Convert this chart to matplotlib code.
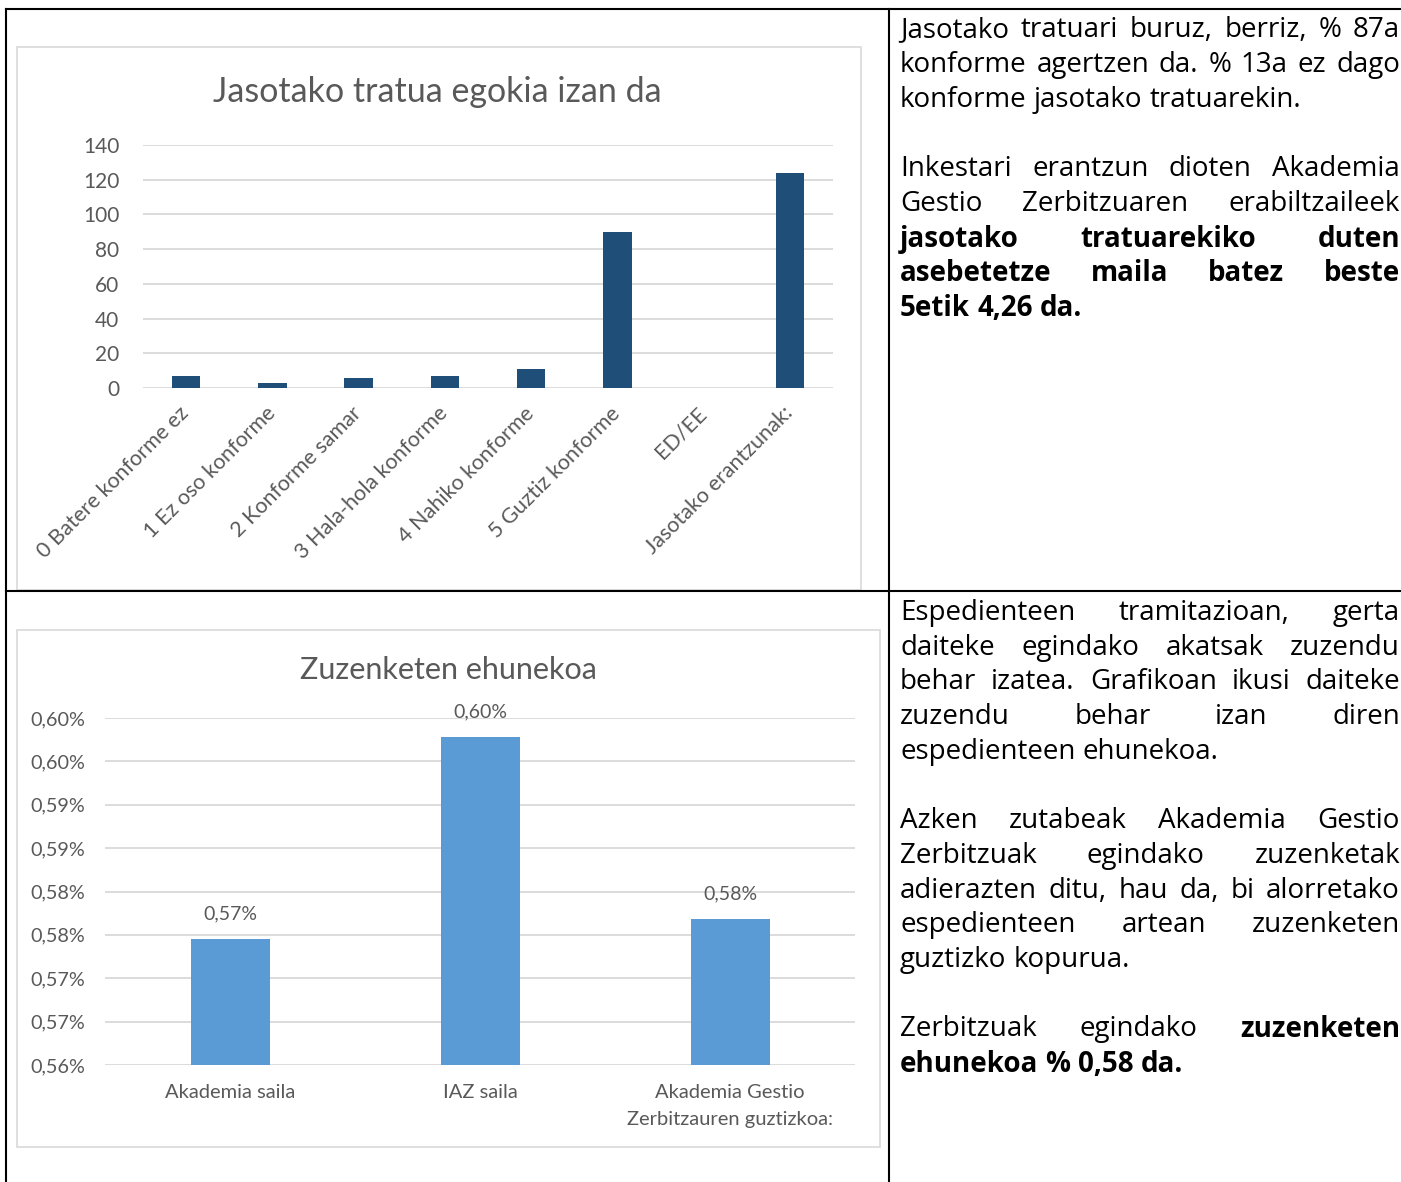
import matplotlib
matplotlib.use("Agg")
import matplotlib.pyplot as plt
from matplotlib.patches import Rectangle

W, H, DPI = 1401, 1182, 100

# chart 1: jasotako tratua
tratua_title = "Jasotako tratua egokia izan da"
tratua_labels = ["0 Batere konforme ez", "1 Ez oso konforme", "2 Konforme samar",
                 "3 Hala-hola konforme", "4 Nahiko konforme", "5 Guztiz konforme",
                 "ED/EE", "Jasotako erantzunak:"]
tratua_values = [7, 3, 6, 7, 11, 90, 0, 124]
tratua_yticks = [0, 20, 40, 60, 80, 100, 120, 140]

# chart 2: zuzenketen ehunekoa
zuzen_title = "Zuzenketen ehunekoa"
zuzen_labels = ["Akademia saila", "IAZ saila", "Akademia Gestio\nZerbitzauren guztizkoa:"]
zuzen_values = [0.5745, 0.5978, 0.5768]
zuzen_bar_labels = ["0,57%", "0,60%", "0,58%"]
zuzen_yticks = [0.560, 0.565, 0.570, 0.575, 0.580, 0.585, 0.590, 0.595, 0.600]
zuzen_yticklabels = ["0,56%", "0,57%", "0,57%", "0,58%", "0,58%", "0,59%", "0,59%", "0,60%", "0,60%"]

# right column text; words starting with * are bold, flag = justified line
top_lines = [
    ("Jasotako tratuari buruz, berriz, % 87a", True),
    ("konforme agertzen da. % 13a ez dago", True),
    ("konforme jasotako tratuarekin.", False),
    None,
    ("Inkestari erantzun dioten Akademia", True),
    ("Gestio Zerbitzuaren erabiltzaileek", True),
    ("*jasotako *tratuarekiko *duten", True),
    ("*asebetetze *maila *batez *beste", True),
    ("*5etik *4,26 *da.", False),
]
bottom_lines = [
    ("Espedienteen tramitazioan, gerta", True),
    ("daiteke egindako akatsak zuzendu", True),
    ("behar izatea. Grafikoan ikusi daiteke", True),
    ("zuzendu behar izan diren", True),
    ("espedienteen ehunekoa.", False),
    None,
    ("Azken zutabeak Akademia Gestio", True),
    ("Zerbitzuak egindako zuzenketak", True),
    ("adierazten ditu, hau da, bi alorretako", True),
    ("espedienteen artean zuzenketen", True),
    ("guztizko kopurua.", False),
    None,
    ("Zerbitzuak egindako *zuzenketen", True),
    ("*ehunekoa *% *0,58 *da.", False),
]

GRAY = "#595959"
GRID = "#D9D9D9"
plt.rcParams["font.family"] = ["Lato", "DejaVu Sans"]

fig = plt.figure(figsize=(W / DPI, H / DPI), dpi=DPI)
page = fig.add_axes([0, 0, 1, 1])
page.set_xlim(0, W)
page.set_ylim(H, 0)
page.axis("off")


def px_axes(x0, y0, x1, y1):
    return fig.add_axes([x0 / W, 1 - y1 / H, (x1 - x0) / W, (y1 - y0) / H])


# table borders
lw = 1.5
page.plot([6, W], [9, 9], color="black", lw=lw)
page.plot([6, W], [591, 591], color="black", lw=lw)
page.plot([6, 6], [9, H], color="black", lw=lw)
page.plot([889, 889], [9, H], color="black", lw=lw)

# chart frames
page.add_patch(Rectangle((17, 47), 844, 543, fill=False, edgecolor=GRID, lw=1.2))
page.add_patch(Rectangle((17, 630), 863, 517, fill=False, edgecolor=GRID, lw=1.2))

page.text(437, 92, tratua_title, ha="center", va="center", fontsize=24.5, color=GRAY)
page.text(448, 670, zuzen_title, ha="center", va="center", fontsize=22, color=GRAY)

# chart 1
ax1 = px_axes(143, 145, 833, 388)
x1 = range(len(tratua_values))
ax1.bar(x1, tratua_values, width=0.33, color="#1F4E79", zorder=3)
ax1.set_xlim(-0.5, len(tratua_values) - 0.5)
ax1.set_ylim(0, 140)
ax1.set_yticks(tratua_yticks)
ax1.set_xticks(list(x1))
ax1.set_xticklabels(tratua_labels, rotation=45, ha="right", va="center",
                    rotation_mode="anchor")
ax1.grid(axis="y", color=GRID, lw=1.3, zorder=0)
ax1.tick_params(axis="y", length=0, pad=17, labelsize=15, labelcolor=GRAY)
ax1.tick_params(axis="x", length=0, pad=16, labelsize=15.5, labelcolor=GRAY)
for s in ax1.spines.values():
    s.set_visible(False)
ax1.set_facecolor("none")

# chart 2
ax2 = px_axes(105, 718, 855, 1065)
x2 = range(len(zuzen_values))
bars = ax2.bar(x2, zuzen_values, width=0.316, color="#5B9BD5", zorder=3)
ax2.set_xlim(-0.5, len(zuzen_values) - 0.5)
ax2.set_ylim(0.56, 0.60)
ax2.set_yticks(zuzen_yticks)
ax2.set_yticklabels(zuzen_yticklabels)
ax2.set_xticks(list(x2))
ax2.set_xticklabels(zuzen_labels, linespacing=1.7)
ax2.grid(axis="y", color=GRID, lw=1.3, zorder=0)
ax2.tick_params(axis="y", length=0, pad=14, labelsize=14.3, labelcolor=GRAY)
ax2.tick_params(axis="x", length=0, pad=14, labelsize=14.5, labelcolor=GRAY)
for s in ax2.spines.values():
    s.set_visible(False)
ax2.set_facecolor("none")
for b, lab in zip(bars, zuzen_bar_labels):
    ax2.annotate(lab, (b.get_x() + b.get_width() / 2, b.get_height()),
                 xytext=(0, 18), textcoords="offset points",
                 ha="center", va="center", fontsize=14, color=GRAY)

# right column justified text
renderer = fig.canvas.get_renderer()
TXT = dict(fontsize=20, family=["Open Sans", "DejaVu Sans"], color="black", va="center")
X_LEFT, X_RIGHT = 900, 1400
space_w = (page.text(0, 0, "a a", **TXT).get_window_extent(renderer).width
           - page.text(0, 0, "aa", **TXT).get_window_extent(renderer).width)
for t in page.texts[-2:]:
    t.remove()


def draw_block(lines, y0, step):
    y = y0
    for line in lines:
        if line is None:
            y += step
            continue
        text, justify = line
        words = text.split(" ")
        items = []
        for w in words:
            bold = w.startswith("*")
            t = page.text(0, y, w.lstrip("*"), fontweight="bold" if bold else "normal", **TXT)
            items.append((t, t.get_window_extent(renderer).width))
        total = sum(wd for _, wd in items)
        if justify and len(items) > 1:
            gap = max((X_RIGHT - X_LEFT - total) / (len(items) - 1), space_w * 0.6)
        else:
            gap = space_w
        x = X_LEFT
        for t, wd in items:
            t.set_x(x)
            x += wd + gap
        y += step


draw_block(top_lines, 30, 34.85)
draw_block(bottom_lines, 613, 34.7)

fig.savefig("out.png", dpi=DPI)
